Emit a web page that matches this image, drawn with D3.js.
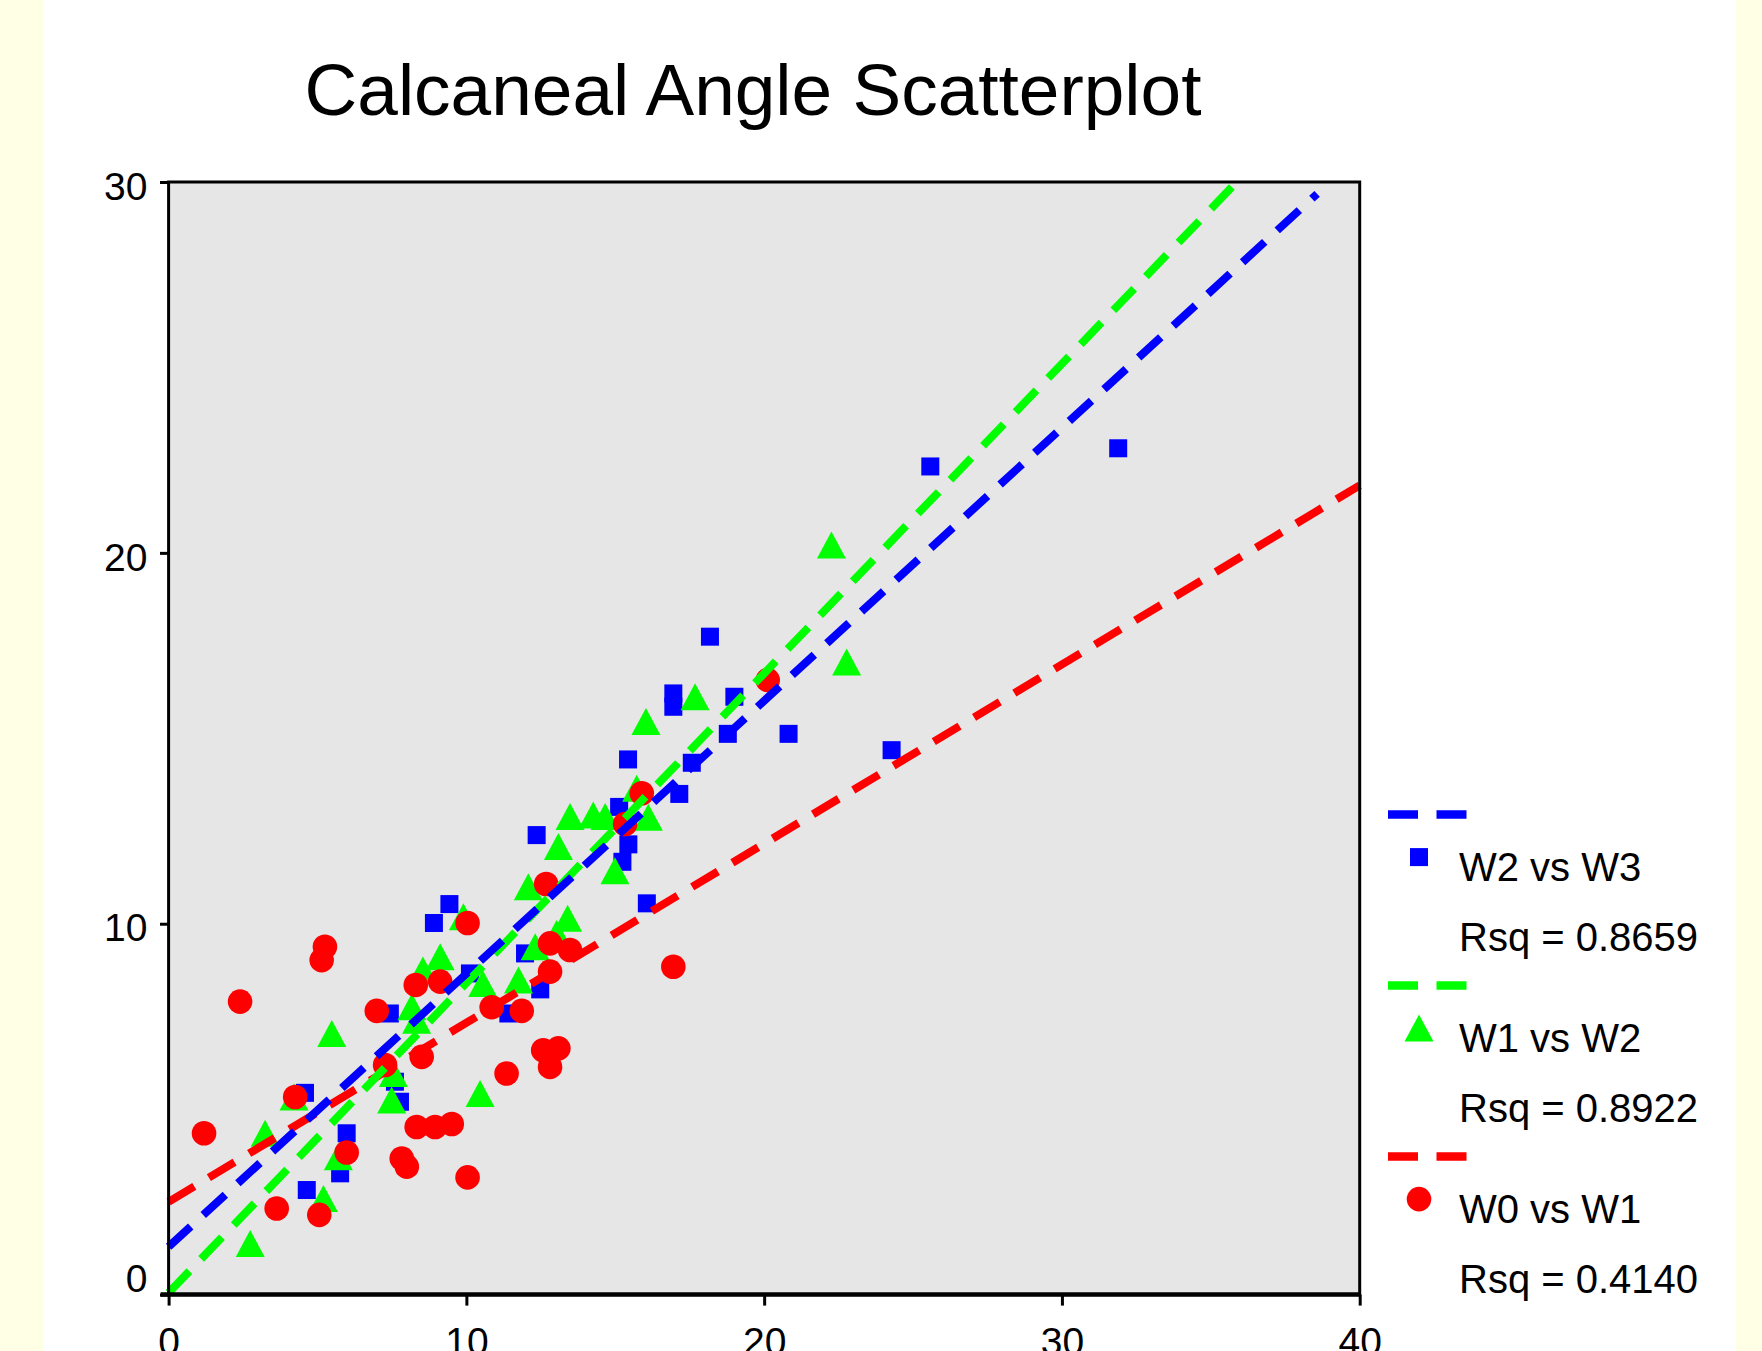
<!DOCTYPE html>
<html>
<head>
<meta charset="utf-8">
<script src="https://cdn.jsdelivr.net/npm/d3@7"></script>
<style>
body{margin:0;background:#ffffe5;}
svg{display:block;font-family:"Liberation Sans",Arial,sans-serif;}
</style>
</head>
<body>
<div id="chart"></div>
<script>

// -----------------------------
// DATA
// -----------------------------

// W2 vs W3 (blue squares)
const w2w3 = [
[25.58,22.33],[31.89,22.82],[18.18,17.74],[16.95,16.21],[16.95,15.85],
[19.0,16.12],[18.78,15.12],[20.82,15.12],[24.28,14.68],[15.43,14.43],
[17.57,14.34],[17.15,13.5],[15.13,13.15],[12.36,12.39],[15.44,12.14],
[15.24,11.67],[16.06,10.55],[9.43,10.53],[8.91,10.02],[11.97,9.2],
[12.48,8.23],[10.12,8.66],[7.43,7.58],[11.41,7.58],[7.6,5.74],
[7.77,5.2],[4.58,5.44],[5.98,4.35],[5.76,3.27],[4.64,2.82]
]

// W1 vs W2 (green triangles)
const w1w2 = [
[22.26,20.21],[22.77,17.06],[17.68,16.12],[16.03,15.45],[15.72,13.65],
[13.48,12.89],[14.26,12.93],[14.66,12.89],[16.11,12.87],[13.09,12.08],
[14.99,11.43],[12.08,11.0],[13.4,10.15],[13.03,9.74],[12.31,9.38],
[9.9,10.19],[9.12,9.11],[8.54,8.75],[10.55,8.39],[11.75,8.48],
[8.17,7.76],[8.33,7.4],[10.46,5.42],[5.48,7.04],[7.49,5.25],
[7.55,5.96],[4.21,5.33],[3.24,4.35],[5.7,3.72],[5.2,2.59],[2.74,1.38]
]

// W0 vs W1 (red circles)
const w0w1 = [
[20.12,16.57],[15.89,13.52],[15.33,12.69],[12.68,11.07],[10.04,10.02],
[5.25,9.38],[5.14,9.02],[2.4,7.9],[16.95,8.84],[12.81,9.47],
[13.48,9.29],[12.81,8.71],[9.12,8.44],[8.3,8.35],[6.99,7.65],
[10.85,7.75],[11.86,7.65],[8.5,6.41],[7.27,6.19],[12.58,6.59],
[13.09,6.64],[12.81,6.14],[11.35,5.96],[4.25,5.33],[1.19,4.35],
[5.98,3.83],[8.33,4.52],[8.95,4.52],[9.51,4.6],[7.83,3.67],
[8.0,3.45],[10.04,3.16],[3.63,2.32],[5.06,2.15]
]

// fit lines (start / end points)
const fitW2W3 = [[0,1.29],[38.57,29.68]]
const fitW1W2 = [[0,0.05],[35.87,30]]
const fitW0W1 = [[0,2.5],[40,21.82]]

const xTicks = [0,10,20,30,40]
const yTicks = [0,10,20,30]

const legendLabels = ["W2 vs W3","W1 vs W2","W0 vs W1"]
const legendRsq = ["Rsq = 0.8659","Rsq = 0.8922","Rsq = 0.4140"]
const colors = ["#0000ff","#00ff00","#ff0000"]


// -----------------------------
// SETUP
// -----------------------------

const width = 1762
const height = 1351

const svg = d3.select("#chart")
.append("svg")
.attr("width",width)
.attr("height",height)

// white panel on yellow page
svg.append("rect")
.attr("x",43.5)
.attr("y",0)
.attr("width",1736-43.5)
.attr("height",height)
.attr("fill","#ffffff")

const x = d3.scaleLinear()
.domain([0,40])
.range([168.6,1359.7])

const y = d3.scaleLinear()
.domain([0,30])
.range([1294.6,182])

// title
svg.append("text")
.attr("x",753)
.attr("y",115)
.attr("text-anchor","middle")
.attr("font-size",73)
.attr("fill","#000")
.text("Calcaneal Angle Scatterplot")

// plot background
svg.append("rect")
.attr("x",x(0))
.attr("y",y(30))
.attr("width",x(40)-x(0))
.attr("height",y(0)-y(30))
.attr("fill","#e6e6e6")


// -----------------------------
// MARKERS
// -----------------------------

const plot = svg.append("g")

plot.selectAll(".sq")
.data(w2w3)
.enter()
.append("rect")
.attr("x",d=>x(d[0])-9)
.attr("y",d=>y(d[1])-9)
.attr("width",18)
.attr("height",18)
.attr("fill",colors[0])

const tri = (cx,cy)=>`M${cx},${cy-13.5}L${cx+14.5},${cy+13.5}L${cx-14.5},${cy+13.5}Z`

plot.selectAll(".tri")
.data(w1w2)
.enter()
.append("path")
.attr("d",d=>tri(x(d[0]),y(d[1])))
.attr("fill",colors[1])

plot.selectAll(".dot")
.data(w0w1)
.enter()
.append("circle")
.attr("cx",d=>x(d[0]))
.attr("cy",d=>y(d[1]))
.attr("r",12.3)
.attr("fill",colors[2])


// -----------------------------
// FIT LINES
// -----------------------------

const line = d3.line()
.x(d=>x(d[0]))
.y(d=>y(d[1]))

const fits = [fitW0W1,fitW1W2,fitW2W3]
const fitColors = [colors[2],colors[1],colors[0]]

fits.forEach((f,i)=>{
svg.append("path")
.datum(f)
.attr("fill","none")
.attr("stroke",fitColors[i])
.attr("stroke-width",8)
.attr("stroke-dasharray","30,17")
.attr("d",line)
})


// -----------------------------
// AXES
// -----------------------------

const xAxis = svg.append("g")
.attr("transform",`translate(0,${y(0)})`)
.call(d3.axisBottom(x).tickValues(xTicks).tickSize(11).tickPadding(22))

xAxis.select(".domain").remove()
xAxis.selectAll("line").attr("stroke","#000").attr("stroke-width",3)
xAxis.selectAll("text")
.attr("font-size",39)
.attr("font-family","Liberation Sans, Arial, sans-serif")
.attr("fill","#000")

const yAxis = svg.append("g")
.attr("transform",`translate(${x(0)},0)`)
.call(d3.axisLeft(y).tickValues(yTicks).tickSize(8.6).tickPadding(12.5))

yAxis.select(".domain").remove()
yAxis.selectAll("line").attr("stroke","#000").attr("stroke-width",3)
yAxis.selectAll("text")
.attr("font-size",39)
.attr("font-family","Liberation Sans, Arial, sans-serif")
.attr("fill","#000")
.attr("dy",d=>d===0?"-0.08em":"0.44em")

// frame
svg.append("rect")
.attr("x",x(0))
.attr("y",y(30))
.attr("width",x(40)-x(0))
.attr("height",y(0)-y(30))
.attr("fill","none")
.attr("stroke","#000")
.attr("stroke-width",3)

svg.append("line")
.attr("x1",x(0)-8)
.attr("x2",x(40))
.attr("y1",y(0))
.attr("y2",y(0))
.attr("stroke","#000")
.attr("stroke-width",4.5)


// -----------------------------
// LEGEND
// -----------------------------

const legend = svg.append("g")

legendLabels.forEach((lab,i)=>{

const y0 = 814.6+171*i
const g = legend.append("g").attr("transform",`translate(0,${y0})`)

g.append("line")
.attr("x1",1388)
.attr("x2",1467)
.attr("y1",0)
.attr("y2",0)
.attr("stroke",colors[i])
.attr("stroke-width",8.5)
.attr("stroke-dasharray","30,18.5")

if(i===0){
g.append("rect")
.attr("x",1419-9).attr("y",42.5-9)
.attr("width",18).attr("height",18)
.attr("fill",colors[i])
} else if(i===1){
g.append("path")
.attr("d",tri(1419,42.5))
.attr("fill",colors[i])
} else {
g.append("circle")
.attr("cx",1419).attr("cy",42.5)
.attr("r",12.3)
.attr("fill",colors[i])
}

g.append("text")
.attr("x",1459)
.attr("y",66.6)
.attr("font-size",40)
.attr("fill","#000")
.text(lab)

g.append("text")
.attr("x",1459)
.attr("y",136)
.attr("font-size",40)
.attr("fill","#000")
.text(legendRsq[i])

})

</script>
</body>
</html>
